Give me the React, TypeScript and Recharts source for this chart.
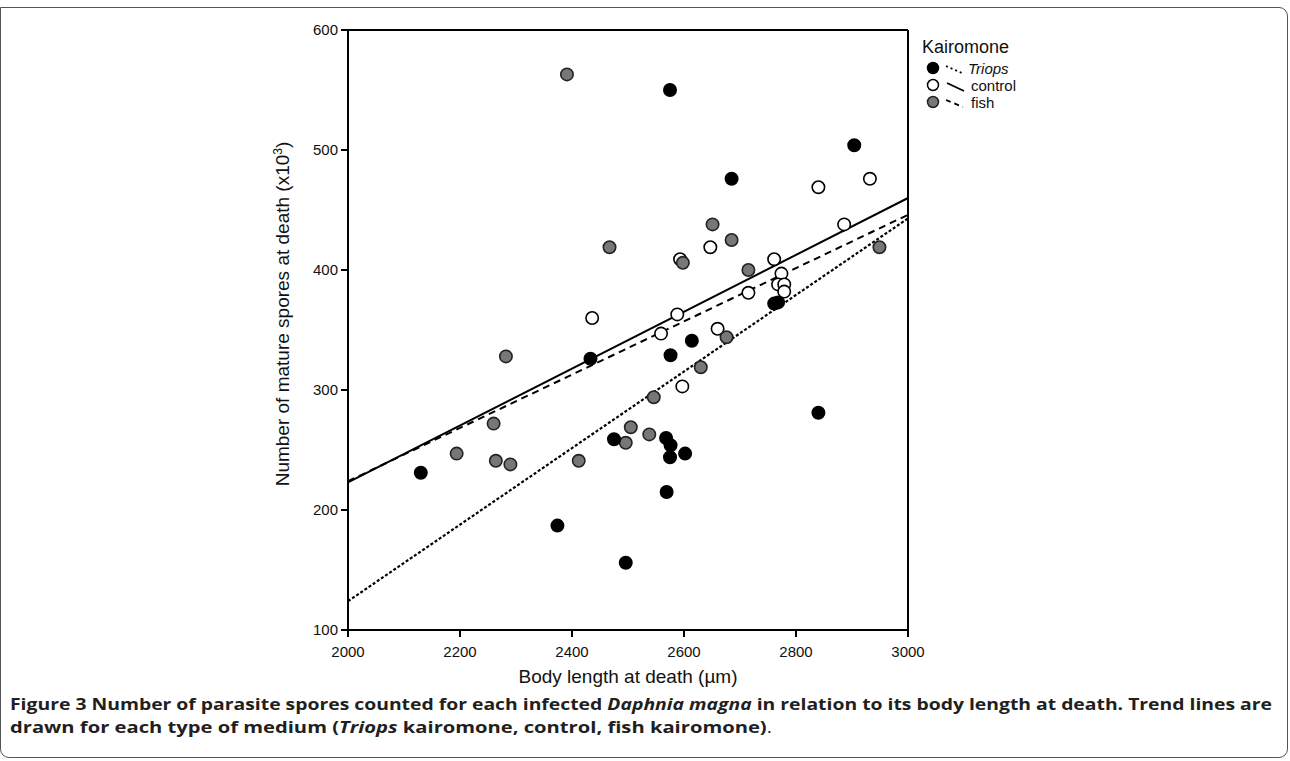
import React from 'react';
import { ScatterChart, Scatter, XAxis, YAxis, ReferenceLine } from 'recharts';

type Pt = { x: number; y: number };

// body length (µm) vs spores (x10³)
const triops: Pt[] = [
  { x: 2575, y: 550 }, { x: 2904, y: 504 }, { x: 2685, y: 476 },
  { x: 2761, y: 372 }, { x: 2768, y: 373 }, { x: 2614, y: 341 },
  { x: 2576, y: 329 }, { x: 2433, y: 326 }, { x: 2840, y: 281 },
  { x: 2475, y: 259 }, { x: 2568, y: 260 }, { x: 2576, y: 254 },
  { x: 2575, y: 244 }, { x: 2602, y: 247 }, { x: 2130, y: 231 },
  { x: 2569, y: 215 }, { x: 2374, y: 187 }, { x: 2496, y: 156 },
];

const control: Pt[] = [
  { x: 2840, y: 469 }, { x: 2932, y: 476 }, { x: 2886, y: 438 },
  { x: 2647, y: 419 }, { x: 2593, y: 409 }, { x: 2761, y: 409 },
  { x: 2774, y: 397 }, { x: 2768, y: 388 }, { x: 2779, y: 388 },
  { x: 2779, y: 382 }, { x: 2715, y: 381 }, { x: 2436, y: 360 },
  { x: 2588, y: 363 }, { x: 2559, y: 347 }, { x: 2660, y: 351 },
  { x: 2597, y: 303 },
];

const fish: Pt[] = [
  { x: 2391, y: 563 }, { x: 2651, y: 438 }, { x: 2685, y: 425 },
  { x: 2467, y: 419 }, { x: 2598, y: 406 }, { x: 2949, y: 419 },
  { x: 2715, y: 400 }, { x: 2676, y: 344 }, { x: 2282, y: 328 },
  { x: 2630, y: 319 }, { x: 2546, y: 294 }, { x: 2260, y: 272 },
  { x: 2505, y: 269 }, { x: 2496, y: 256 }, { x: 2538, y: 263 },
  { x: 2194, y: 247 }, { x: 2264, y: 241 }, { x: 2290, y: 238 },
  { x: 2412, y: 241 },
];

// trend line end points
const triopsTrend: Pt[] = [{ x: 2000, y: 124 }, { x: 3000, y: 443 }];
const controlTrend: Pt[] = [{ x: 2000, y: 223 }, { x: 3000, y: 460 }];
const fishTrend: Pt[] = [{ x: 2000, y: 224 }, { x: 3000, y: 446 }];

const X_TICKS = [2000, 2200, 2400, 2600, 2800, 3000];
const Y_TICKS = [100, 200, 300, 400, 500, 600];

const FONT = '"Liberation Sans", Arial, sans-serif';
const CAP_FONT = '"Open Sans", "Noto Sans", sans-serif';

function dot(fill: string, stroke: string) {
  return (props: any) => (
    <circle cx={props.cx} cy={props.cy} r={6.2} fill={fill} stroke={stroke} strokeWidth={1.6} />
  );
}

const tickStyle = { fill: '#111', fontSize: 15, fontFamily: FONT };

export default function App() {
  return (
    <div style={{ position: 'absolute', left: 0, top: 0, width: 1290, height: 761, background: '#fff' }}>
      {/* figure frame */}
      <div
        style={{
          position: 'absolute',
          left: 0,
          top: 7,
          width: 1288,
          height: 751,
          border: '1.5px solid #555',
          borderRadius: '0 9px 9px 9px',
          boxSizing: 'border-box',
        }}
      />
      <div style={{ position: 'absolute', left: 0, top: 0 }}>
        <ScatterChart width={1290} height={700} margin={{ top: 30, right: 382, bottom: 40, left: 288 }}>
          <XAxis
            type="number"
            dataKey="x"
            domain={[2000, 3000]}
            ticks={X_TICKS}
            tick={tickStyle}
            tickSize={7}
            tickMargin={9}
            height={30}
            axisLine={{ stroke: '#000', strokeWidth: 2 }}
            tickLine={{ stroke: '#000', strokeWidth: 2 }}
          />
          <YAxis
            type="number"
            dataKey="y"
            domain={[100, 600]}
            ticks={Y_TICKS}
            tick={tickStyle}
            tickSize={7}
            tickMargin={3}
            width={60}
            axisLine={{ stroke: '#000', strokeWidth: 2 }}
            tickLine={{ stroke: '#000', strokeWidth: 2 }}
          />
          <ReferenceLine y={600} stroke="#000" strokeWidth={2} />
          <ReferenceLine x={3000} stroke="#000" strokeWidth={2} />
          <ReferenceLine
            segment={triopsTrend}
            stroke="#000"
            strokeWidth={2.2}
            strokeDasharray="3 2"
          />
          <ReferenceLine segment={controlTrend} stroke="#000" strokeWidth={2} />
          <ReferenceLine
            segment={fishTrend}
            stroke="#000"
            strokeWidth={2}
            strokeDasharray="7 5"
          />
          <Scatter data={control} shape={dot('#fff', '#000')} isAnimationActive={false} />
          <Scatter data={fish} shape={dot('#777', '#222')} isAnimationActive={false} />
          <Scatter data={triops} shape={dot('#000', '#000')} isAnimationActive={false} />
        </ScatterChart>
      </div>

      <svg
        width={1290}
        height={761}
        style={{ position: 'absolute', left: 0, top: 0, pointerEvents: 'none' }}
      >
        {/* axis titles */}
        <text
          x={628}
          y={683}
          textAnchor="middle"
          fontFamily={FONT}
          fontSize={19}
          fill="#111"
        >
          Body length at death (µm)
        </text>
        <text
          transform="translate(289,314) rotate(-90)"
          textAnchor="middle"
          fontFamily={FONT}
          fontSize={19}
          fill="#111"
        >
          Number of mature spores at death (x10
          <tspan fontSize={12} dy={-7}>3</tspan>
          <tspan dy={7}>)</tspan>
        </text>

        {/* legend */}
        <g fontFamily={FONT} fontSize={15} fill="#111">
          <text x={922} y={53} fontSize={18}>Kairomone</text>
          <circle cx={933} cy={68} r={5.5} fill="#000" stroke="#000" strokeWidth={1.5} />
          <line x1={946} y1={66} x2={962} y2={73} stroke="#000" strokeWidth={1.8} strokeDasharray="2 3" />
          <text x={968} y={74} fontStyle="italic">Triops</text>
          <circle cx={933} cy={85} r={5.5} fill="#fff" stroke="#000" strokeWidth={1.5} />
          <line x1={947} y1={83} x2={964} y2={91} stroke="#000" strokeWidth={1.8} />
          <text x={971} y={91}>control</text>
          <circle cx={933} cy={102} r={5.5} fill="#777" stroke="#222" strokeWidth={1.5} />
          <line x1={946} y1={100} x2={963} y2={107} stroke="#000" strokeWidth={1.8} strokeDasharray="5 4" />
          <text x={971} y={108}>fish</text>
        </g>

        {/* caption */}
        <g fontFamily={CAP_FONT} fontSize={16} fontWeight={700} fill="#231f20">
          <text x={10} y={710} textLength={1262} lengthAdjust="spacingAndGlyphs">
            Figure 3<tspan fontWeight={400}> </tspan>Number of parasite spores counted for each infected{' '}
            <tspan fontStyle="italic">Daphnia magna</tspan> in relation to its body length at death. Trend lines are
          </text>
          <text x={10} y={733} textLength={762} lengthAdjust="spacingAndGlyphs">
            drawn for each type of medium (<tspan fontStyle="italic">Triops</tspan> kairomone, control, fish kairomone)
            <tspan fontWeight={400}>.</tspan>
          </text>
        </g>
      </svg>
    </div>
  );
}
